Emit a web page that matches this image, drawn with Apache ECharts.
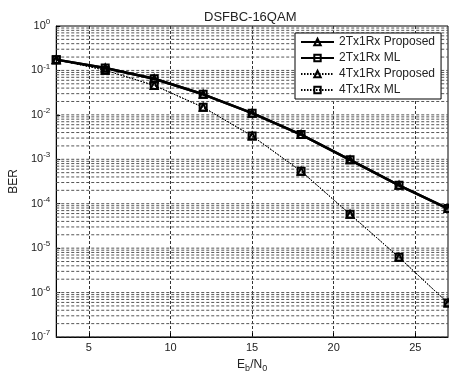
<!doctype html>
<html lang="en">
<head>
    <meta charset="UTF-8">
    <title>DSFBC-16QAM</title>
    <script src="https://cdn.jsdelivr.net/npm/echarts@6/dist/echarts.min.js"></script>
    <style>
        html, body { margin: 0; padding: 0; background: #fff; }
        #main { width: 449px; height: 378px; }
    </style>
</head>
<body>
<div id="main"></div>
<script type="text/javascript">
    // Eb/N0 points
    var ebno = [3, 6, 9, 12, 15, 18, 21, 24, 27];
    // BER
    var ber2Proposed = [0.175, 0.113, 0.065, 0.029, 0.0109, 0.0036, 0.00097, 0.00026, 0.000078];
    var ber2ML = [0.175, 0.113, 0.065, 0.029, 0.0109, 0.0036, 0.00097, 0.00026, 0.000078];
    var ber4Proposed = [0.175, 0.101, 0.046, 0.0148, 0.00335, 0.00054, 0.000058, 0.0000062, 0.00000058];
    var ber4ML = [0.175, 0.101, 0.046, 0.0148, 0.00335, 0.00054, 0.000058, 0.0000062, 0.00000058];
    var seriesNames = ['2Tx1Rx Proposed', '2Tx1Rx ML', '4Tx1Rx Proposed', '4Tx1Rx ML'];
    var xTicks = [5, 10, 15, 20, 25];
    var yTicks = [1e-7, 1e-6, 1e-5, 1e-4, 1e-3, 1e-2, 1e-1, 1];

    var font = 'Liberation Sans';

    // horizontal log grid (1..9 x 10^k), drawn as one broken line series
    var gridPts = [];
    for (var k = -7; k < 0; k++) {
        for (var m = 1; m <= 9; m++) {
            var v = m * Math.pow(10, k);
            gridPts.push([3, v], [27, v], [27, '-']);
        }
    }

    function pair(arr) {
        return ebno.map(function (x, i) {
            return [x, arr[i]];
        });
    }

    function mkSeries(name, data, dotted, symbol) {
        return {
            name: name,
            type: 'line',
            data: pair(data),
            symbol: symbol,
            symbolSize: 7,
            showAllSymbol: true,
            z: 5,
            lineStyle: {
                color: '#000',
                width: dotted ? 1 : 2.5,
                type: dotted ? [1.5, 1.5] : 'solid'
            },
            // hollow marks, see-through so triangle shows inside the square
            itemStyle: {
                color: 'rgba(255,255,255,0)',
                borderColor: '#000',
                borderWidth: 2
            }
        };
    }

    var myChart = echarts.init(document.getElementById('main'));

    var series = [
        mkSeries(seriesNames[0], ber2Proposed, false, 'triangle'),
        mkSeries(seriesNames[1], ber2ML, false, 'rect'),
        mkSeries(seriesNames[2], ber4Proposed, true, 'triangle'),
        mkSeries(seriesNames[3], ber4ML, true, 'rect'),
        {
            name: 'grid',
            type: 'line',
            data: gridPts,
            symbol: 'none',
            silent: true,
            connectNulls: false,
            z: 1,
            lineStyle: {color: '#555', width: 1, type: [3, 2]}
        }
    ];

    option = {
        animation: false,
        backgroundColor: '#fff',
        title: {
            text: 'DSFBC-16QAM',
            left: 199,
            top: 6,
            textStyle: {fontFamily: font, fontSize: 13, fontWeight: 'normal', color: '#222'}
        },
        legend: {
            orient: 'vertical',
            left: 295,
            top: 33,
            z: 10,
            itemWidth: 33,
            itemHeight: 8,
            itemGap: 4,
            padding: [3, 6, 3, 5],
            borderColor: '#000',
            borderWidth: 1,
            borderRadius: 0,
            backgroundColor: '#fff',
            textStyle: {fontFamily: font, fontSize: 12, color: '#222'},
            data: seriesNames
        },
        grid: {
            left: 51,
            right: 1,
            top: 26,
            bottom: 37,
            show: true,
            borderColor: '#000',
            borderWidth: 1,
            containLabel: false
        },
        xAxis: {
            type: 'value',
            min: 3,
            max: 27,
            name: 'E{sub|b}/N{sub|0}',
            nameLocation: 'middle',
            nameGap: 20,
            nameTextStyle: {
                fontFamily: font, fontSize: 12, color: '#222',
                rich: {sub: {fontFamily: font, fontSize: 9, color: '#222', padding: [7, 0, 0, 0]}}
            },
            axisLine: {lineStyle: {color: '#000'}},
            axisTick: {inside: true, length: 4, customValues: xTicks, lineStyle: {color: '#000'}},
            axisLabel: {customValues: xTicks, fontFamily: font, fontSize: 11, color: '#222', margin: 5},
            splitLine: {show: true, lineStyle: {color: '#333', type: [3, 2]}}
        },
        yAxis: {
            type: 'log',
            logBase: 10,
            min: 1e-7,
            max: 1,
            name: 'BER',
            nameLocation: 'middle',
            nameGap: 33,
            nameTextStyle: {fontFamily: font, fontSize: 12, color: '#222'},
            axisLine: {lineStyle: {color: '#000'}},
            axisTick: {inside: true, length: 4, customValues: yTicks, lineStyle: {color: '#000'}},
            axisLabel: {
                customValues: yTicks,
                fontFamily: font,
                fontSize: 11,
                color: '#222',
                margin: 6,
                formatter: function (v) {
                    return '10{sup|' + Math.round(Math.log10(v)) + '}';
                },
                rich: {sup: {fontFamily: font, fontSize: 8, color: '#222', padding: [0, 0, 8, 0]}}
            },
            splitLine: {show: false}
        },
        series: series
    };

    myChart.setOption(option);
</script>
</body>
</html>
